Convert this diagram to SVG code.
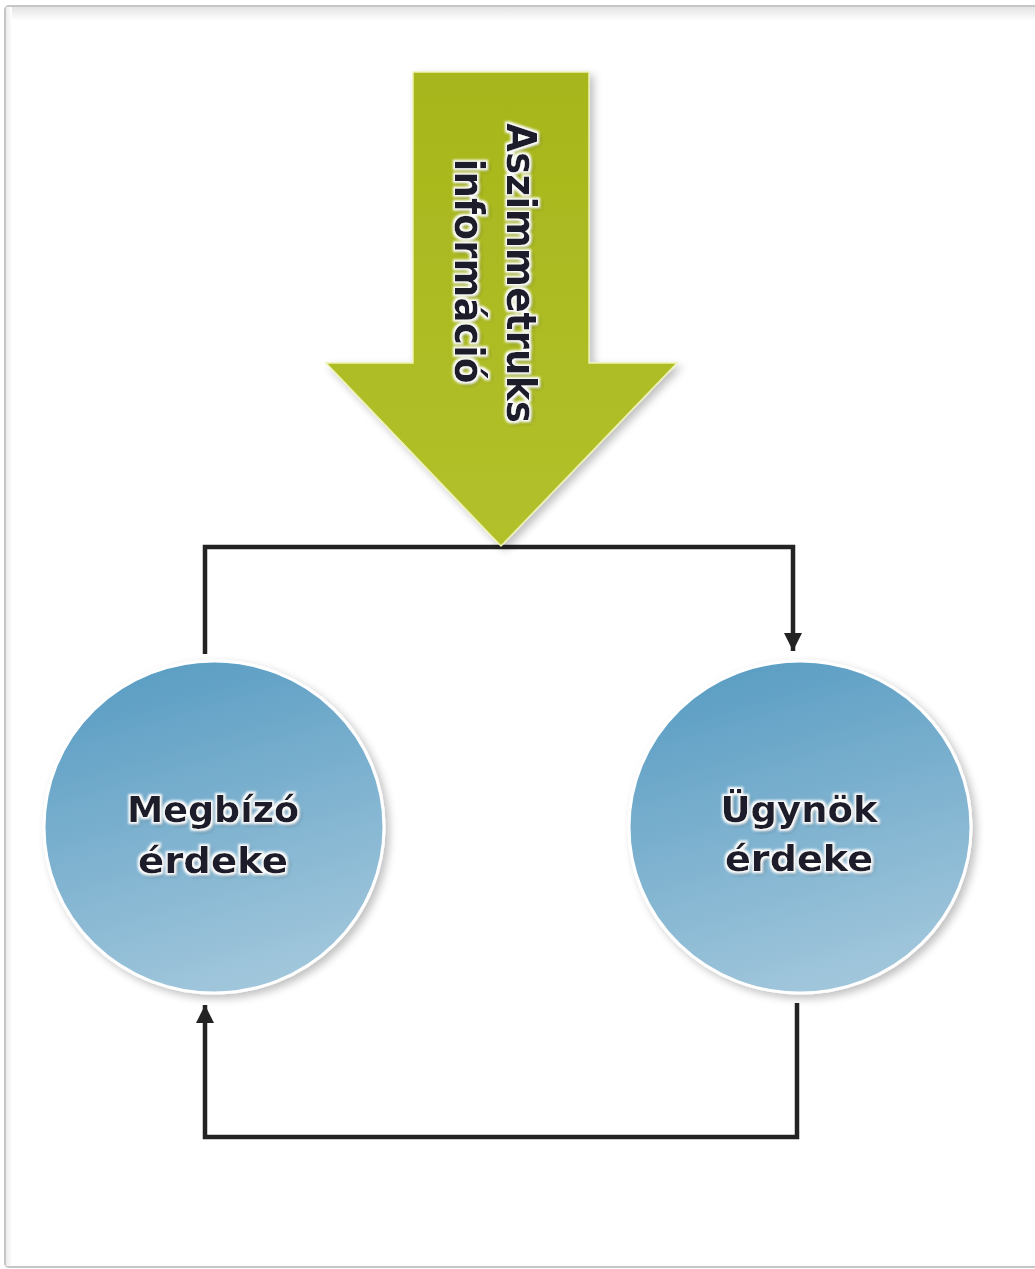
<svg xmlns="http://www.w3.org/2000/svg" width="1035" height="1269" viewBox="0 0 1035 1269">
  <style>
    .conn { fill: none; stroke: #232323; stroke-width: 4.5; stroke-linejoin: miter; }
    .label { font-family: "DejaVu Sans", Verdana, sans-serif; font-weight: bold; fill: #1d1d2b; }
    .circle { stroke: #ffffff; stroke-width: 3; }
  </style>
  <defs>
    <linearGradient id="frameTop" x1="0" y1="0" x2="0" y2="1">
      <stop offset="0" stop-color="#e4e4e4"/>
      <stop offset="1" stop-color="#ffffff"/>
    </linearGradient>
    <linearGradient id="frameLeft" x1="0" y1="0" x2="1" y2="0">
      <stop offset="0" stop-color="#ececec"/>
      <stop offset="1" stop-color="#ffffff"/>
    </linearGradient>
    <linearGradient id="arrowFill" x1="0" y1="0" x2="0" y2="1">
      <stop offset="0" stop-color="#a7b61b"/>
      <stop offset="1" stop-color="#b2c12b"/>
    </linearGradient>
    <linearGradient id="ballFill" x1="0.3" y1="0" x2="0.6" y2="1">
      <stop offset="0" stop-color="#5a9dc3"/>
      <stop offset="1" stop-color="#a2c7dc"/>
    </linearGradient>
    <filter id="softShadow" x="-10%" y="-10%" width="125%" height="125%">
      <feGaussianBlur in="SourceAlpha" stdDeviation="4"/>
      <feOffset dx="4" dy="4" result="b"/>
      <feComponentTransfer><feFuncA type="linear" slope="0.25"/></feComponentTransfer>
      <feMerge><feMergeNode/><feMergeNode in="SourceGraphic"/></feMerge>
    </filter>
    <!-- white halo plus dark drop shadow behind label glyphs -->
    <filter id="halo" x="-20%" y="-40%" width="140%" height="180%">
      <feOffset in="SourceAlpha" dx="2" dy="2" result="off"/>
      <feGaussianBlur in="off" stdDeviation="2" result="sh"/>
      <feFlood flood-color="#303030" flood-opacity="0.8"/>
      <feComposite in2="sh" operator="in" result="shadow"/>
      <feMorphology in="SourceAlpha" operator="dilate" radius="2" result="dil"/>
      <feGaussianBlur in="dil" stdDeviation="0.8" result="dilb"/>
      <feFlood flood-color="#ffffff"/>
      <feComposite in2="dilb" operator="in" result="white"/>
      <feMerge>
        <feMergeNode in="shadow"/>
        <feMergeNode in="white"/>
        <feMergeNode in="SourceGraphic"/>
      </feMerge>
    </filter>
    <marker id="head" viewBox="0 0 10 10" refX="10" refY="5" markerWidth="4" markerHeight="4.6" markerUnits="strokeWidth" orient="auto">
      <path d="M0,0 L10,5 L0,10 Z" fill="#232323"/>
    </marker>
  </defs>

  <!-- page frame -->
  <rect x="0" y="0" width="1035" height="1269" fill="#ffffff"/>
  <rect x="5" y="6" width="1040" height="1261" rx="4" fill="#ffffff" stroke="#c6c6c6" stroke-width="2"/>
  <rect x="6" y="7" width="1029" height="14" fill="url(#frameTop)"/>
  <rect x="6" y="7" width="6" height="1259" fill="url(#frameLeft)"/>

  <!-- connectors -->
  <g id="connectors">
    <path class="conn" d="M205,654 L205,547 L793,547 L793,651" marker-end="url(#head)"/>
    <path class="conn" d="M797,1003 L797,1137 L205,1137 L205,1005" marker-end="url(#head)"/>
  </g>

  <!-- big downward arrow -->
  <g id="asym-info">
    <path d="M413,72 L589,72 L589,363 L677,363 L501,546 L326,363 L413,363 Z" fill="url(#arrowFill)" stroke="#eef2b0" stroke-width="1.5" filter="url(#softShadow)"/>
    <g class="label" font-size="40" filter="url(#halo)">
      <text transform="translate(507,273) rotate(90)" text-anchor="middle" textLength="300" lengthAdjust="spacingAndGlyphs">Aszimmetruks</text>
      <text transform="translate(455,271) rotate(90)" text-anchor="middle" textLength="225" lengthAdjust="spacingAndGlyphs">információ</text>
    </g>
  </g>

  <!-- principal -->
  <g id="principal">
    <ellipse class="circle" cx="214" cy="827" rx="170" ry="166" fill="url(#ballFill)" filter="url(#softShadow)"/>
    <g class="label" font-size="35" text-anchor="middle" filter="url(#halo)">
      <text x="213" y="822" textLength="172" lengthAdjust="spacingAndGlyphs">Megbízó</text>
      <text x="213" y="873" textLength="150" lengthAdjust="spacingAndGlyphs">érdeke</text>
    </g>
  </g>

  <!-- agent -->
  <g id="agent">
    <ellipse class="circle" cx="800" cy="827" rx="171" ry="166" fill="url(#ballFill)" filter="url(#softShadow)"/>
    <g class="label" font-size="35" text-anchor="middle" filter="url(#halo)">
      <text x="799" y="822" textLength="157" lengthAdjust="spacingAndGlyphs">Ügynök</text>
      <text x="799" y="871" textLength="148" lengthAdjust="spacingAndGlyphs">érdeke</text>
    </g>
  </g>
</svg>
